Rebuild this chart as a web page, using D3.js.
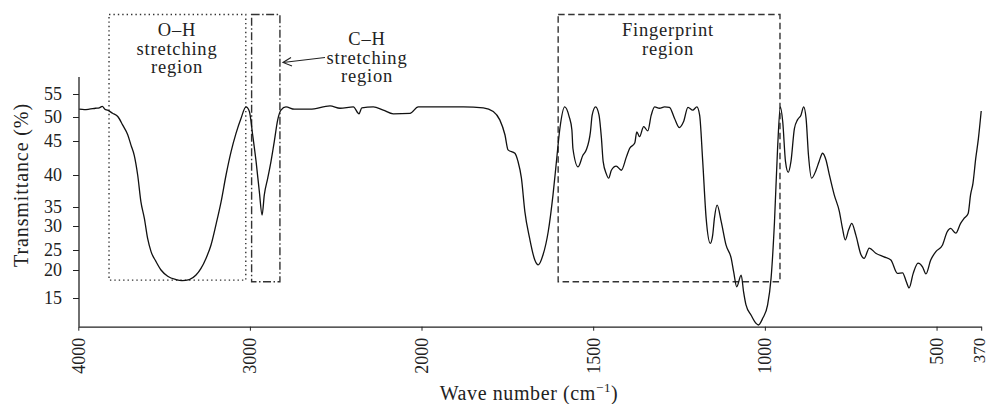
<!DOCTYPE html>
<html>
<head>
<meta charset="utf-8">
<script src="https://cdn.jsdelivr.net/npm/d3@7/dist/d3.min.js"></script>
<style>
  html, body { margin: 0; padding: 0; background: #fff; }
  svg text { font-family: "Liberation Serif", "Times New Roman", serif; fill: #222; }
</style>
</head>
<body>
<svg id="chart" width="988" height="404"></svg>
<script>
// ---- Data ----
const wavenumber = [
  3994, 3965, 3936, 3900, 3878, 3860, 3845, 3829, 3800, 3770, 3741, 3712, 3693, 3674, 3654, 3635, 3615, 3596,
  3576, 3547, 3518, 3479, 3431, 3396, 3353, 3314, 3285, 3256, 3227, 3198, 3168, 3139, 3110, 3081,
  3052, 3023, 3003, 2984, 2964, 2945, 2929, 2916, 2896, 2877, 2858, 2838, 2819, 2790, 2741, 2650,
  2533, 2475, 2397, 2364, 2348, 2281, 2223, 2164, 2067, 2019, 1946, 1878, 1820, 1791, 1772, 1757,
  1748, 1728, 1719, 1709, 1699, 1685, 1670, 1660, 1646, 1631, 1617, 1607, 1597, 1583, 1570, 1562,
  1559, 1544, 1530, 1520, 1508, 1503, 1493, 1483, 1476, 1471, 1462, 1455, 1447, 1433, 1418, 1403,
  1394, 1379, 1373, 1365, 1353, 1341, 1331, 1321, 1307, 1292, 1278, 1263, 1249, 1237, 1224, 1210,
  1198, 1190, 1181, 1171, 1159, 1152, 1147, 1139, 1127, 1113, 1098, 1091, 1082, 1069, 1062, 1055,
  1040, 1026, 1019, 1006, 992, 982, 972, 963, 955, 948, 940, 932, 924, 914, 905, 895, 887, 880,
  873, 864, 851, 842, 832, 822, 813, 798, 783, 774, 766, 756, 747, 735, 720, 711, 696, 677, 653,
  633, 614, 599, 588, 580, 568, 554, 541, 531, 517, 502, 483, 469, 459, 444, 430, 420, 408, 401,
  394, 386, 378, 370
];
const transmittance = [
  51.7, 51.6, 51.7, 51.9, 52.0, 52.3, 51.7, 51.5, 50.8, 50.1, 48.3, 46.3, 44.4, 42.9, 40.0, 35.8, 32.0, 27.4,
  24.6, 22.1, 20.0, 18.9, 18.3, 18.1, 18.3, 19.1, 20.4, 22.9, 26.0, 30.3, 35.8, 40.0, 43.4, 46.6,
  49.7, 52.2, 51.2, 46.3, 42.0, 37.4, 32.9, 36.9, 39.5, 42.0, 44.9, 49.4, 51.5, 52.2, 51.7, 51.7,
  52.4, 51.9, 52.2, 50.7, 52.0, 52.2, 51.5, 50.7, 50.8, 52.2, 52.2, 52.2, 52.0, 51.2, 49.4, 46.3,
  43.7, 43.2, 42.0, 39.5, 33.8, 27.4, 22.5, 21.3, 23.8, 28.8, 36.9, 42.0, 47.6, 52.2, 50.1, 47.3,
  43.9, 41.2, 42.9, 43.7, 46.9, 50.4, 52.2, 50.4, 45.6, 42.0, 40.2, 39.5, 40.7, 41.3, 40.7, 42.7,
  43.9, 44.7, 46.9, 45.9, 48.0, 47.1, 50.4, 52.2, 51.9, 52.2, 52.1, 49.7, 47.8, 49.0, 52.1, 51.5,
  52.2, 50.4, 42.0, 32.0, 26.4, 28.1, 32.0, 35.3, 31.1, 26.0, 22.9, 19.7, 17.0, 19.1, 16.1, 13.8,
  12.0, 10.6, 10.3, 11.5, 13.8, 18.5, 31.1, 43.9, 52.2, 49.0, 42.0, 40.4, 42.0, 47.6, 49.4, 50.4, 52.2, 49.7,
  42.9, 39.5, 40.7, 42.0, 43.2, 42.2, 40.2, 36.9, 33.8, 29.5, 27.1, 29.2, 30.7, 28.1, 23.8, 22.9, 25.4, 24.2, 23.3,
  22.5, 19.4, 19.5, 17.9, 16.8, 19.4, 21.7, 20.8, 19.3, 22.5, 24.6, 26.0, 28.8, 29.5, 28.5, 30.7, 32.0, 33.3, 36.9,
  38.7, 42.4, 45.6, 51.3
];
const xTicks = [4000, 3000, 2000, 1500, 1000, 500, 370];
const yTicks = [15, 20, 25, 30, 35, 40, 45, 50, 55];

// Region annotations: wavenumber ranges and lower transmittance edge
const regionNames = ["O-H", "C-H", "Fingerprint"];
const regionFrom = [3821, 2990, 1602];
const regionTo = [3024, 2825, 956];
const regionBottom = [18.2, 17.9, 17.9];
const regionLines = [["O–H", "stretching", "region"], ["C–H", "stretching", "region"], ["Fingerprint", "region"]];

// ---- Layout ----
const svg = d3.select("#chart");
const plotTop = 77, plotBottom = 326.7, boxTop = 14.5;

// Broken (piecewise) wavenumber axis, as in the original figure
const x = d3.scaleLinear().domain([4000, 2000, 370]).range([78.3, 421.5, 981.2]);
// The original figure's transmittance axis is non-uniform; reproduce it piecewise
const y = d3.scaleLinear()
  .domain([10, 15, 20, 25, 30, 35, 40, 45, 50, 55, 58.7])
  .range([plotBottom, 298, 270, 250, 226, 207, 175, 141, 117, 94, plotTop]);

// Axes
const xAxis = svg.append("g")
  .attr("transform", `translate(0,${plotBottom})`)
  .call(d3.axisBottom(x).tickValues(xTicks).tickSize(4).tickSizeOuter(0).tickFormat(d3.format("d")));
xAxis.select(".domain").attr("stroke", "#222").attr("stroke-width", 1.3);
xAxis.selectAll(".tick line").attr("stroke", "#222");
xAxis.selectAll(".tick text")
  .attr("font-size", d => d === 370 ? 17 : 18)
  .attr("text-anchor", "end")
  .attr("transform", "rotate(-90)")
  .attr("x", -11).attr("y", 0).attr("dy", d => d === 370 ? "0.22em" : "0.33em");

const yAxis = svg.append("g")
  .attr("transform", `translate(79,0)`)
  .call(d3.axisLeft(y).tickValues(yTicks).tickSize(6).tickSizeOuter(0).tickPadding(11));
yAxis.select(".domain").attr("stroke", "#222").attr("stroke-width", 1.3)
  .attr("d", `M0,${plotTop}V${plotBottom}`);
yAxis.selectAll(".tick line").attr("stroke", "#222");
yAxis.selectAll(".tick text").attr("font-size", 18);

// Axis titles
svg.append("text")
  .attr("transform", "translate(28,185) rotate(-90)")
  .attr("text-anchor", "middle").attr("font-size", 20).attr("letter-spacing", 0.9)
  .text("Transmittance (%)");

const xt = svg.append("text")
  .attr("x", 529).attr("y", 400)
  .attr("text-anchor", "middle").attr("font-size", 20).attr("letter-spacing", 0.6);
xt.append("tspan").text("Wave number (cm");
xt.append("tspan").attr("dy", -8).attr("font-size", 13).text("−1");
xt.append("tspan").attr("dy", 8).text(")");

// Region boxes
const dashes = ["1.4,3", "8,2.5,1.5,2.5", "6.5,3.5"];
regionNames.forEach((n, i) => {
  const x0 = x(regionFrom[i]), x1 = x(regionTo[i]), yb = y(regionBottom[i]);
  svg.append("rect")
    .attr("x", x0).attr("y", boxTop)
    .attr("width", x1 - x0).attr("height", yb - boxTop)
    .attr("fill", "none").attr("stroke", "#333").attr("stroke-width", 1.4)
    .attr("stroke-dasharray", dashes[i]);
});

// Region labels
const labelCx = [177, 367, 668];
const labelY0 = [36, 45, 36];
const labelStep = [18.5, 18.5, 18.5];
regionLines.forEach((lines, i) => {
  const t = svg.append("text").attr("text-anchor", "middle").attr("font-size", 18.5).attr("letter-spacing", 0.8);
  lines.forEach((s, k) => {
    t.append("tspan").attr("x", labelCx[i]).attr("y", labelY0[i] + k * labelStep[i]).text(s);
  });
});

// Arrow pointing to C-H box
svg.append("line").attr("x1", 325).attr("y1", 57.5).attr("x2", 283).attr("y2", 62.5)
  .attr("stroke", "#222").attr("stroke-width", 1.1);
svg.append("path").attr("d", "M291,57.5 L283,62.5 L292,66")
  .attr("fill", "none").attr("stroke", "#222").attr("stroke-width", 1.1);

// Spectrum line
const pts = wavenumber.map((w, i) => [w, transmittance[i]]);
svg.append("path")
  .datum(pts)
  .attr("fill", "none").attr("stroke", "#111").attr("stroke-width", 1.3)
  .attr("stroke-linejoin", "round")
  .attr("d", d3.line().x(d => x(d[0])).y(d => y(d[1])).curve(d3.curveMonotoneX));
</script>
</body>
</html>
